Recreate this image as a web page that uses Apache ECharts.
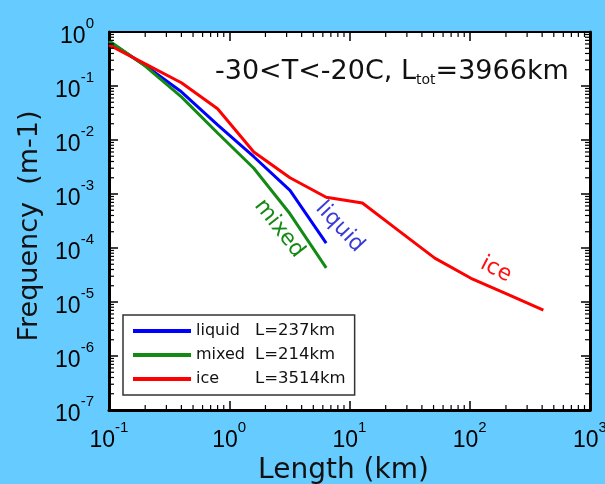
<!DOCTYPE html>
<html>
<head>
<meta charset="utf-8">
<script src="https://cdn.jsdelivr.net/npm/echarts@6/dist/echarts.min.js"></script>
<style>
  html, body { margin: 0; padding: 0; background: #66ccff; }
  #chart { width: 605px; height: 484px; }
</style>
</head>
<body>
<div id="chart"></div>
<script>
// Length bins (km), doubling from 0.1 km
const lengthBins = [0.1, 0.2, 0.4, 0.8, 1.6, 3.2, 6.4, 12.8, 25.6, 51.2, 102.4, 204.8, 409.6];
// Frequency (m-1) per phase
const liquidFreq = [0.66, 0.24, 0.078, 0.019, 0.0049, 0.00117, 1.23e-4];
const mixedFreq  = [0.69, 0.234, 0.063, 0.0135, 0.003, 4.3e-4, 4.3e-5];
const iceFreq    = [0.575, 0.257, 0.115, 0.038, 0.006, 0.002, 8.7e-4, 6.8e-4, 2.1e-4, 6.5e-5, 2.75e-5, 1.4e-5, 7.1e-6];
const phaseNames = ['liquid', 'mixed', 'ice'];
const phaseTotals = [237, 214, 3514]; // km
const phaseColors = ['#0000ff', '#138a13', '#ff0000'];
const labelColors = ['#3a3ad6', '#138a13', '#ff1010'];
// In-plot curve labels: [length km, frequency, rotation deg]
const curveLabelPos = [[8.3, 2.45e-4, -47], [2.6, 2.3e-4, -52], [165, 4.0e-5, -27]];
const titleParts = ['-30<T<-20C, L', 'tot', '=3966km'];

const FONT = '"Liberation Sans", Arial, sans-serif';
const WIDE = '"DejaVu Sans", Verdana, sans-serif';
const freqSets = [liquidFreq, mixedFreq, iceFreq];

const chart = echarts.init(document.getElementById('chart'), null, { renderer: 'canvas' });

const powLabel = v => '{b|10}{e|' + Math.round(Math.log10(v)) + '}';
const powRich = {
  b: { fontSize: 23, fontFamily: FONT, color: '#000', lineHeight: 32, verticalAlign: 'bottom' },
  e: { fontSize: 15, fontFamily: FONT, color: '#000', lineHeight: 32, verticalAlign: 'top' }
};

const tickCommon = { inside: true, length: 9, lineStyle: { color: '#000', width: 1.5 } };

const option = {
  backgroundColor: '#66ccff',
  animation: false,
  title: {
    left: 210, top: 50,
    text: '{m|' + titleParts[0] + '}{s|' + titleParts[1] + '}{m|' + titleParts[2] + '}',
    textStyle: {
      fontWeight: 'normal',
      rich: {
        m: { fontSize: 27, fontFamily: WIDE, fontWeight: 'normal', color: '#111', lineHeight: 34, verticalAlign: 'middle' },
        s: { fontSize: 14, fontFamily: WIDE, fontWeight: 'normal', color: '#111', lineHeight: 34, verticalAlign: 'bottom', padding: [0, 0, 2, 0] }
      }
    }
  },
  grid: {
    left: 109, top: 32, right: 15, bottom: 74,
    containLabel: false, outerBoundsMode: 'none',
    show: true, backgroundColor: '#ffffff', borderColor: '#000', borderWidth: 2
  },
  legend: {
    orient: 'vertical', left: 123, top: 315,
    backgroundColor: '#ffffff', borderColor: '#333', borderWidth: 1.5, borderRadius: 0,
    padding: [6, 9, 6, 10],
    itemGap: 4, itemWidth: 58, itemHeight: 4, icon: 'rect',
    data: phaseNames,
    formatter: name => {
      const i = phaseNames.indexOf(name);
      return '{a|' + name + '}{c|L=' + phaseTotals[i] + 'km}';
    },
    textStyle: {
      lineHeight: 20,
      rich: {
        a: { width: 59, fontSize: 16, fontFamily: WIDE, color: '#111' },
        c: { fontSize: 16.5, fontFamily: WIDE, color: '#111' }
      }
    }
  },
  xAxis: [{
    type: 'log', logBase: 10, min: 0.1, max: 1000, position: 'bottom',
    axisLine: { show: true, lineStyle: { color: '#000', width: 3 } },
    axisTick: tickCommon,
    splitLine: { show: false },
    axisLabel: { formatter: powLabel, rich: powRich, margin: 10, showMinLabel: true, showMaxLabel: true },
    name: 'Length (km)', nameLocation: 'middle', nameGap: 44,
    nameTextStyle: { fontSize: 28, fontFamily: WIDE, color: '#111', padding: [0, 12, 0, 0] }
  }, {
    type: 'log', logBase: 10, min: 0.1, max: 1000, position: 'top',
    axisLine: { show: true, lineStyle: { color: '#000', width: 2 } },
    axisTick: tickCommon, axisLabel: { show: false }, splitLine: { show: false }
  }],
  yAxis: [{
    type: 'log', logBase: 10, min: 1e-7, max: 1, position: 'left',
    axisLine: { show: true, lineStyle: { color: '#000', width: 3 } },
    axisTick: tickCommon,
    splitLine: { show: false },
    axisLabel: { formatter: powLabel, rich: powRich, margin: 15, showMinLabel: true, showMaxLabel: true },
    name: 'Frequency  (m-1)', nameLocation: 'middle', nameGap: 66, nameRotate: 90,
    nameTextStyle: { fontSize: 27, fontFamily: WIDE, color: '#111', padding: [0, 10, 0, 0] }
  }, {
    type: 'log', logBase: 10, min: 1e-7, max: 1, position: 'right',
    axisLine: { show: true, lineStyle: { color: '#000', width: 3 } },
    axisTick: tickCommon, axisLabel: { show: false }, splitLine: { show: false }
  }],
  series: phaseNames.map((name, i) => ({
    name: name, type: 'line', xAxisIndex: 0, yAxisIndex: 0,
    symbol: 'none', smooth: false,
    lineStyle: { color: phaseColors[i], width: 3 },
    itemStyle: { color: phaseColors[i] },
    data: freqSets[i].map((f, j) => [lengthBins[j], f]),
    z: 2
  }))
};

chart.setOption(option);

// Minor ticks (2..9 per decade) on all four sides, plus in-plot curve labels
function decorate() {
  const els = [];
  const toX = v => chart.convertToPixel({ xAxisIndex: 0 }, v);
  const toY = v => chart.convertToPixel({ yAxisIndex: 0 }, v);
  const x0 = toX(0.1), x1 = toX(1000), y0 = toY(1), y1 = toY(1e-7);
  const len = 5;
  const seg = (a, b, c, d) => els.push({
    type: 'line', silent: true, z: 10,
    shape: { x1: a, y1: b, x2: c, y2: d },
    style: { stroke: '#000', lineWidth: 1.2 }
  });
  for (let d = -1; d < 3; d++) {
    for (let k = 2; k <= 9; k++) {
      const x = toX(k * Math.pow(10, d));
      seg(x, y1, x, y1 - len);
      seg(x, y0, x, y0 + len);
    }
  }
  for (let d = -7; d < 0; d++) {
    for (let k = 2; k <= 9; k++) {
      const y = toY(k * Math.pow(10, d));
      seg(x0, y, x0 + len, y);
      seg(x1, y, x1 - len, y);
    }
  }
  curveLabelPos.forEach((p, i) => {
    els.push({
      type: 'text', silent: true, z: 12,
      x: toX(p[0]), y: toY(p[1]), rotation: p[2] * Math.PI / 180,
      style: {
        text: phaseNames[i], fill: labelColors[i],
        font: '22px ' + WIDE, align: 'center', verticalAlign: 'middle'
      }
    });
  });
  chart.setOption({ graphic: els });
}
decorate();
</script>
</body>
</html>
